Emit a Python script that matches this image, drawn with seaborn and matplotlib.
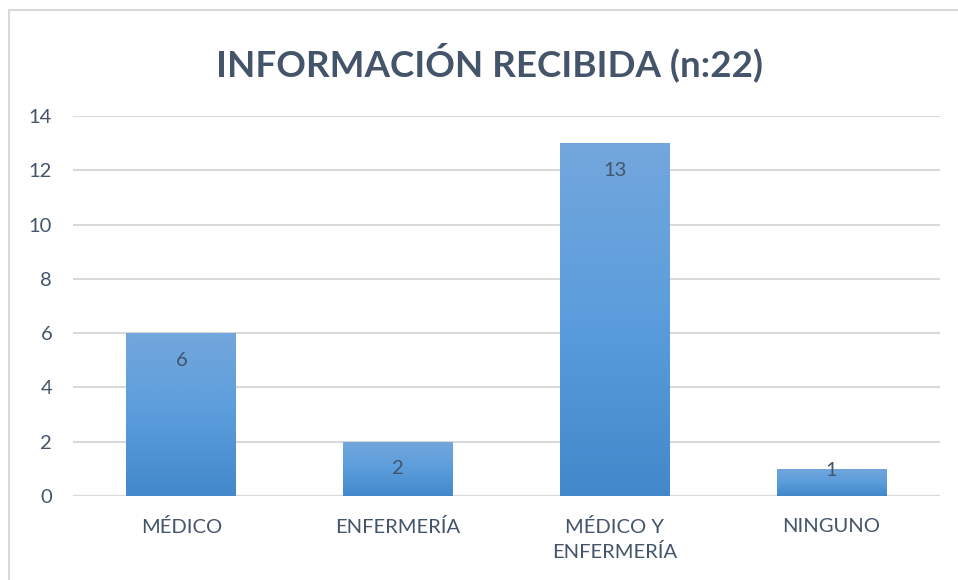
import numpy as np
import pandas as pd
import seaborn as sns
import matplotlib.pyplot as plt
from matplotlib.patches import Rectangle

# data
categories = ['MÉDICO', 'ENFERMERÍA', 'MÉDICO Y\nENFERMERÍA', 'NINGUNO']
counts = [6, 2, 13, 1]
yticks = [0, 2, 4, 6, 8, 10, 12, 14]
title = 'INFORMACIÓN RECIBIDA (n:22)'

text_col = '#44546A'
grid_col = '#D9D9D9'

df = pd.DataFrame({'cat': categories, 'n': counts})

sns.set_style('white')
plt.rcParams['font.family'] = ['Lato', 'DejaVu Sans']

fig = plt.figure(figsize=(9.58, 5.8), dpi=100)
ax = fig.add_axes([73 / 958, 1 - 496 / 580, 867 / 958, 380 / 580])

# chart border (like an excel chart frame, cut at right and bottom)
fig.patches.append(Rectangle((9 / 958, -0.05), 1.2, 1 - 10 / 580 + 0.05,
                             transform=fig.transFigure, fill=False,
                             edgecolor=grid_col, linewidth=1.5))

sns.barplot(data=df, x='cat', y='n', color='#5B9BD5', width=0.507,
            saturation=1, ax=ax, zorder=3)

# vertical gradient fill on each bar
grad = np.linspace(0, 1, 256).reshape(-1, 1)
cmap = sns.blend_palette(['#4288CA', '#5B9DDC', '#73A7DC'], as_cmap=True)
for p in ax.patches:
    x0, y0 = p.get_x(), p.get_y()
    w, h = p.get_width(), p.get_height()
    im = ax.imshow(grad, cmap=cmap, origin='lower', aspect='auto',
                   extent=[x0, x0 + w, y0, y0 + h], zorder=4)
    im.set_clip_path(p)
    p.set_edgecolor('none')

ax.set_xlim(-0.5, len(categories) - 0.5)
ax.set_ylim(0, 14)
ax.set_yticks(yticks)
ax.yaxis.grid(True, color=grid_col, linewidth=1.5, zorder=0)
ax.set_axisbelow(True)
for s in ['top', 'right', 'left', 'bottom']:
    ax.spines[s].set_visible(False)
ax.axhline(0, color=grid_col, linewidth=1.5, zorder=2)

ax.tick_params(axis='both', length=0, labelsize=14.5, labelcolor=text_col)
ax.tick_params(axis='y', pad=15)
ax.tick_params(axis='x', pad=16)
for lab in ax.get_xticklabels():
    lab.set_linespacing(1.45)
ax.set_xlabel('')
ax.set_ylabel('')

# value labels inside the bar top (pushed up when the bar is short)
px_per_unit = 380 / 14
for i, v in enumerate(counts):
    off = max(1, min(27, v * px_per_unit - 26))
    ax.annotate(str(v), (i, v), xytext=(0, -off * 0.72),
                textcoords='offset points', ha='center', va='center',
                fontsize=14.5, color=text_col, zorder=6)

fig.text(490 / 958, 1 - 62 / 580, title, ha='center', va='center',
         fontsize=26.5, fontweight='bold', color=text_col)

fig.savefig('out.png', dpi=100)
